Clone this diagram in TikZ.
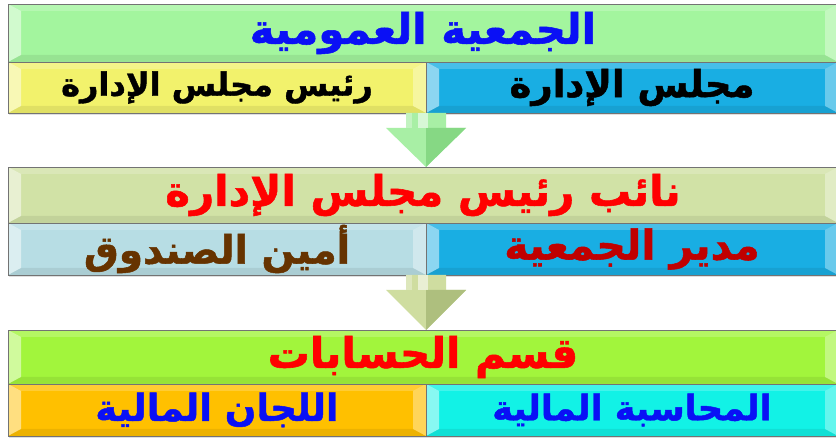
\documentclass[tikz,border=0pt]{standalone}
\usepackage{fontspec}
\newfontfamily\arabicfont[Script=Arabic,BoldFeatures={FakeBold=1.3}]{DejaVu Sans}
\TeXXeTstate=1
\usetikzlibrary{calc,shadows}
\definecolor{gTop}{HTML}{A3F59E}
\definecolor{yBar}{HTML}{F2F26C}
\definecolor{bBar}{HTML}{19AEE3}
\definecolor{oTop}{HTML}{D1E2A6}
\definecolor{sBar}{HTML}{B7DDE4}
\definecolor{lTop}{HTML}{A2F53C}
\definecolor{goldBar}{HTML}{FFC000}
\definecolor{cBar}{HTML}{12F2E6}
\definecolor{tBlue}{HTML}{0A10F5}
\definecolor{tRed}{HTML}{FF0000}
\definecolor{tBrown}{HTML}{663300}
\definecolor{tDRed}{HTML}{C00000}
\definecolor{arG}{HTML}{A8EFA5}
\definecolor{arGd}{HTML}{86D884}
\definecolor{arO}{HTML}{CFDDA0}
\definecolor{arOd}{HTML}{AEBF7E}
\newcommand\blockarrow[4]{%
  \fill[#3] ($(#1)+(-20,0)$) -- ($(#1)+(20,0)$) -- ($(#1)+(20,15)$) -- ($(#1)+(40,15)$)
     -- (#2) -- ($(#1)+(-40,15)$) -- ($(#1)+(-20,15)$) -- cycle;
  \fill[#4] ($(#1)+(0,15)$) -- ($(#1)+(40,15)$) -- (#2) -- cycle;
  \fill[white,opacity=.55] ($(#1)+(-8,0)$) rectangle ($(#1)+(2,15)$);
  \fill[white,opacity=.3] ($(#1)+(-20,0)$) rectangle ($(#1)+(-14,15)$);
}
\begin{document}
\begin{tikzpicture}[x=1pt,y=-1pt,
  bar/.style={draw=black!55, line width=0.8pt, inner sep=0pt, outer sep=0pt,
    anchor=north west, drop shadow={opacity=0.25, shadow xshift=1pt, shadow yshift=-2pt},
    path picture={
      \fill[white,opacity=.5] (path picture bounding box.south west) -- (path picture bounding box.north west)
        -- ([xshift=13pt,yshift=-7pt]path picture bounding box.north west)
        -- ([xshift=13pt,yshift=7pt]path picture bounding box.south west) -- cycle;
      \fill[white,opacity=.2] (path picture bounding box.north west) -- (path picture bounding box.north east)
        -- ([xshift=-13pt,yshift=-7pt]path picture bounding box.north east)
        -- ([xshift=13pt,yshift=-7pt]path picture bounding box.north west) -- cycle;
      \fill[white,opacity=.35] (path picture bounding box.north east) -- (path picture bounding box.south east)
        -- ([xshift=-13pt,yshift=7pt]path picture bounding box.south east)
        -- ([xshift=-13pt,yshift=-7pt]path picture bounding box.north east) -- cycle;
      \fill[black,opacity=.07] (path picture bounding box.south west) -- (path picture bounding box.south east)
        -- ([xshift=-13pt,yshift=7pt]path picture bounding box.south east)
        -- ([xshift=13pt,yshift=7pt]path picture bounding box.south west) -- cycle;
    }},
  topbar/.style={bar, minimum width=830pt, font=\arabicfont\bfseries\fontsize{42}{46}\selectfont},
  lbar/.style={bar, minimum width=418pt, font=\arabicfont\bfseries\fontsize{37}{40}\selectfont},
  rbar/.style={bar, minimum width=412pt, font=\arabicfont\bfseries\fontsize{37}{40}\selectfont}]
\useasboundingbox[fill=white] (0,0) rectangle (836,438);

% block 1
\node[topbar, fill=gTop, minimum height=58pt, text=tBlue] (t1) at (8,4) {\beginR الجمعية العمومية\endR};
\node[lbar, fill=yBar, minimum height=51pt, text=black, font=\arabicfont\bfseries\fontsize{32}{36}\selectfont] (l1) at (8,62) {\beginR رئيس مجلس الإدارة\endR};
\node[rbar, fill=bBar, minimum height=51pt, text=black] (r1) at (426,62) {\beginR مجلس الإدارة\endR};

% block 2
\node[topbar, fill=oTop, minimum height=56pt, text=tRed] (t2) at (8,167) {\beginR نائب رئيس مجلس الإدارة\endR};
\node[lbar, fill=sBar, minimum height=52pt, text=tBrown, font=\arabicfont\bfseries\fontsize{39}{42}\selectfont] (l2) at (8,223) {\beginR أمين الصندوق\endR};
\node[rbar, fill=bBar, minimum height=52pt, text=tDRed, font=\arabicfont\bfseries\fontsize{41}{44}\selectfont] (r2) at (426,223) {\beginR مدير الجمعية\endR};

% block 3
\node[topbar, fill=lTop, minimum height=54pt, text=tRed] (t3) at (8,330) {\beginR قسم الحسابات\endR};
\node[lbar, fill=goldBar, minimum height=52pt, text=tBlue] (l3) at (8,384) {\beginR اللجان المالية\endR};
\node[rbar, fill=cBar, minimum height=52pt, text=tBlue, font=\arabicfont\bfseries\fontsize{35}{38}\selectfont] (r3) at (426,384) {\beginR المحاسبة المالية\endR};

% arrows
\coordinate (a1) at (r1.south west);
\coordinate (a1tip) at (a1 |- t2.north);
\blockarrow{a1}{a1tip}{arG}{arGd}
\coordinate (a2) at (r2.south west);
\coordinate (a2tip) at (a2 |- t3.north);
\blockarrow{a2}{a2tip}{arO}{arOd}
\end{tikzpicture}
\end{document}
